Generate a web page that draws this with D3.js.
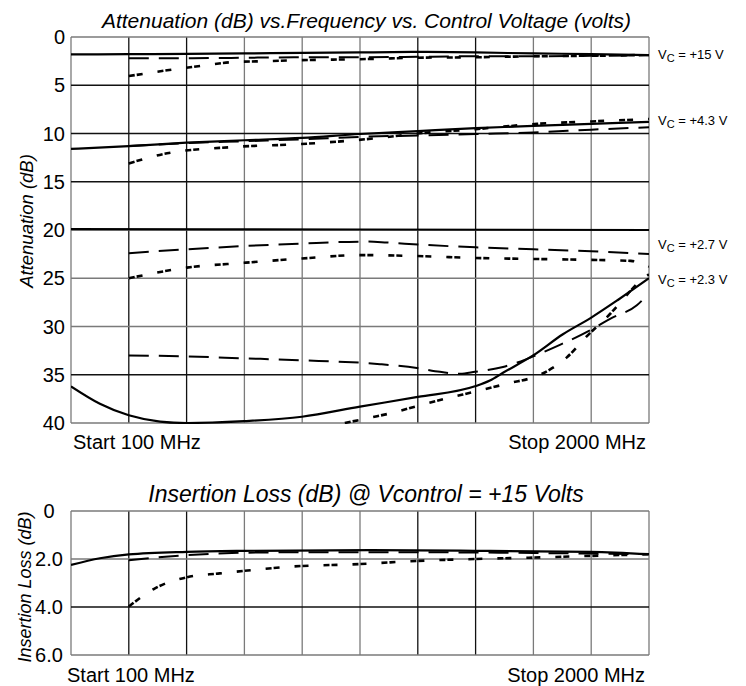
<!DOCTYPE html>
<html>
<head>
<meta charset="utf-8">
<script src="https://cdn.jsdelivr.net/npm/d3@7"></script>
<style>
  html, body { margin: 0; padding: 0; background: #fff; }
  svg { display: block; font-family: "Liberation Sans", Arial, Helvetica, sans-serif; }
</style>
</head>
<body>
<svg id="chart" width="746" height="686"></svg>
<script>
// ---------------- DATA ----------------
// Frequency grid (MHz)
const freqTicks = [100, 290, 480, 670, 860, 1050, 1240, 1430, 1620, 1810, 2000];
const attenTicks = [0, 5, 10, 15, 20, 25, 30, 35, 40];
const attenTickLabels = ["0", "5", "10", "15", "20", "25", "30", "35", "40"];
const ilTicks = [0, 2, 4, 6];
const ilTickLabels = ["0", "2.0", "4.0", "6.0"];

// Attenuation curves [freq MHz, dB]
// Vc = +15 V
const vc15Solid = [[100,1.8],[290,1.78],[480,1.74],[670,1.7],[860,1.65],[1050,1.6],[1240,1.55],[1430,1.6],[1620,1.7],[1810,1.77],[2000,1.87]];
const vc15Dash  = [[290,2.2],[480,2.2],[670,2.15],[860,2.1],[1050,2.1],[1240,2.05],[1430,2.0],[1620,2.0],[1810,1.95],[2000,1.9]];
const vc15Dot   = [[290,4.05],[416,3.45],[524,3.0],[633,2.6],[744,2.5],[853,2.4],[1050,2.3],[1240,2.15],[1430,2.1],[1620,2.0],[1810,1.95],[2000,1.85]];
// Vc = +4.3 V
const vc43Solid = [[100,11.6],[290,11.3],[480,10.95],[670,10.7],[860,10.45],[1050,10.05],[1240,9.75],[1430,9.45],[1620,9.2],[1810,9.0],[2000,8.8]];
const vc43Dash  = [[290,11.3],[480,11.0],[670,10.8],[860,10.6],[1050,10.35],[1240,10.2],[1430,10.05],[1620,9.9],[1810,9.6],[2000,9.35]];
const vc43Dot   = [[290,13.1],[416,12.05],[633,11.4],[853,11.1],[1116,10.45],[1240,10.0],[1430,9.55],[1632,9.0],[1810,8.75],[2000,8.5]];
// Vc = +2.7 V
const vc27Solid = [[100,19.9],[1050,19.95],[2000,20.0]];
const vc27Dash  = [[290,22.4],[481,22.0],[859,21.4],[1073,21.2],[1139,21.3],[1240,21.5],[1430,21.8],[1620,22.0],[1810,22.2],[2000,22.5]];
const vc27Dot   = [[290,25.0],[481,23.9],[669,23.4],[859,22.95],[1050,22.6],[1240,22.7],[1430,22.9],[1620,23.0],[1810,23.1],[1940,23.2],[2000,23.8]];
// Vc = +2.3 V
const vc23Solid = [[100,36.2],[195,38.0],[290,39.2],[393,39.85],[481,40.0],[669,39.8],[859,39.35],[1050,38.3],[1240,37.3],[1428,36.2],[1477,35.6],[1520,34.8],[1619,33.0],[1717,30.8],[1809,29.1],[1900,27.2],[2000,25.0]];
const vc23Dash  = [[290,33.0],[481,33.1],[669,33.3],[859,33.5],[1116,33.9],[1237,34.3],[1313,34.7],[1379,34.9],[1428,34.7],[1520,34.2],[1570,33.7],[1619,33.1],[1707,31.9],[1806,30.4],[1872,29.2],[1960,27.8],[1993,26.8]];
const vc23Dot   = [[1000,40.0],[1106,39.3],[1149,39.0],[1231,38.3],[1329,37.5],[1434,36.7],[1536,35.9],[1642,35.0],[1730,33.2],[1796,31.0],[1875,28.6],[1931,26.6],[1970,25.3],[2000,24.6]];

// Right-hand curve labels
const vcLabels = [
  { value: "+15 V",  atten: 1.9 },
  { value: "+4.3 V", atten: 8.7 },
  { value: "+2.7 V", atten: 21.6 },
  { value: "+2.3 V", atten: 25.2 }
];

// Insertion loss @ +15 V  [freq MHz, dB]
const ilSolid = [[100,2.25],[195,1.97],[290,1.81],[481,1.70],[669,1.66],[1083,1.63],[1428,1.66],[1809,1.7],[2000,1.8]];
const ilDash  = [[290,2.05],[481,1.84],[669,1.74],[860,1.72],[1240,1.72],[1620,1.75],[2000,1.8]];
const ilDot   = [[290,3.98],[376,3.22],[481,2.76],[589,2.6],[721,2.43],[820,2.32],[1050,2.21],[1149,2.14],[1237,2.08],[1428,2.0],[1619,1.94],[1809,1.87],[2000,1.8]];

// ---------------- STYLES ----------------
const GRAY = "#7a7a7a", BLACK = "#111";
const vGridShade = [GRAY, BLACK, BLACK, GRAY, GRAY, GRAY, BLACK, BLACK, GRAY, GRAY, GRAY];
const hGridShadeTop = [GRAY, BLACK, BLACK, BLACK, GRAY, GRAY, GRAY, BLACK, GRAY];
const hGridShadeBot = [GRAY, GRAY, BLACK, GRAY];
const lineStyles = {
  solid: { dash: null, width: 2.2 },
  dash:  { dash: "20,10", width: 2.0 },
  dot:   { dash: "6,2,6,15", width: 2.6 }
};

// ---------------- DRAW ----------------
const svg = d3.select("#chart");
const X0 = 71, X1 = 649;

function panel(y0, y1, yDomain, yTicks, hShade, series, clipId) {
  const x = d3.scaleLinear().domain([100, 2000]).range([X0, X1]);
  const y = d3.scaleLinear().domain(yDomain).range([y0, y1]);
  const g = svg.append("g");

  g.append("clipPath").attr("id", clipId)
    .append("rect").attr("x", X0).attr("y", y0 - 1).attr("width", X1 - X0).attr("height", y1 - y0 + 2);

  g.selectAll("line.v").data(freqTicks).enter().append("line")
    .attr("x1", d => x(d)).attr("x2", d => x(d))
    .attr("y1", y0).attr("y2", y1)
    .attr("stroke", (d, i) => vGridShade[i]).attr("stroke-width", 1.3);
  g.selectAll("line.h").data(yTicks).enter().append("line")
    .attr("x1", X0).attr("x2", X1)
    .attr("y1", d => y(d)).attr("y2", d => y(d))
    .attr("stroke", (d, i) => hShade[i]).attr("stroke-width", 1.3);

  const line = d3.line().x(d => x(d[0])).y(d => y(d[1])).curve(d3.curveMonotoneX);
  const lg = g.append("g").attr("clip-path", `url(#${clipId})`);
  series.forEach(s => {
    const st = lineStyles[s.style];
    lg.append("path").datum(s.data)
      .attr("d", line)
      .attr("fill", "none")
      .attr("stroke", "#000")
      .attr("stroke-width", st.width)
      .attr("stroke-dasharray", st.dash);
  });
  return { x, y, g };
}

// Top panel
const topP = panel(37, 423, [0, 40], attenTicks, hGridShadeTop, [
  { data: vc15Solid, style: "solid" }, { data: vc15Dash, style: "dash" }, { data: vc15Dot, style: "dot" },
  { data: vc43Solid, style: "solid" }, { data: vc43Dash, style: "dash" }, { data: vc43Dot, style: "dot" },
  { data: vc27Solid, style: "solid" }, { data: vc27Dash, style: "dash" }, { data: vc27Dot, style: "dot" },
  { data: vc23Solid, style: "solid" }, { data: vc23Dash, style: "dash" }, { data: vc23Dot, style: "dot" }
], "clipTop");

topP.g.selectAll("text.yt").data(attenTicks).enter().append("text")
  .attr("x", 65).attr("y", d => topP.y(d) + 7)
  .attr("text-anchor", "end").attr("font-size", 20)
  .text((d, i) => attenTickLabels[i]);

svg.append("text").attr("x", 366.5).attr("y", 28).attr("text-anchor", "middle")
  .attr("font-size", 21).attr("font-style", "italic")
  .text("Attenuation (dB) vs.Frequency vs. Control Voltage (volts)");

svg.append("text").attr("transform", "translate(33,221) rotate(-90)")
  .attr("text-anchor", "middle").attr("font-size", 18.5).attr("font-style", "italic")
  .text("Attenuation (dB)");

svg.append("text").attr("x", 73).attr("y", 449).attr("font-size", 20).text("Start 100 MHz");
svg.append("text").attr("x", 646).attr("y", 449).attr("font-size", 20).attr("text-anchor", "end").text("Stop 2000 MHz");

// Vc labels
vcLabels.forEach(l => {
  const t = svg.append("text").attr("x", 658).attr("y", topP.y(l.atten) + 4).attr("font-size", 13);
  t.append("tspan").text("V");
  t.append("tspan").attr("font-size", 11).attr("dy", 3).text("C");
  t.append("tspan").attr("dy", -3).text(" = " + l.value);
});

// Bottom panel
const botP = panel(511, 655, [0, 6], ilTicks, hGridShadeBot, [
  { data: ilSolid, style: "solid" }, { data: ilDash, style: "dash" }, { data: ilDot, style: "dot" }
], "clipBot");

botP.g.selectAll("text.yt").data(ilTicks).enter().append("text")
  .attr("x", 49).attr("y", d => botP.y(d) + 7)
  .attr("text-anchor", "middle").attr("font-size", 20)
  .text((d, i) => ilTickLabels[i]);

svg.append("text").attr("x", 366).attr("y", 502).attr("text-anchor", "middle")
  .attr("font-size", 23).attr("font-style", "italic")
  .text("Insertion Loss (dB) @ Vcontrol = +15 Volts");

svg.append("text").attr("transform", "translate(31,587) rotate(-90)")
  .attr("text-anchor", "middle").attr("font-size", 18).attr("font-style", "italic")
  .text("Insertion Loss (dB)");

svg.append("text").attr("x", 67).attr("y", 682).attr("font-size", 20).text("Start 100 MHz");
svg.append("text").attr("x", 645).attr("y", 682).attr("font-size", 20).attr("text-anchor", "end").text("Stop 2000 MHz");
</script>
</body>
</html>
